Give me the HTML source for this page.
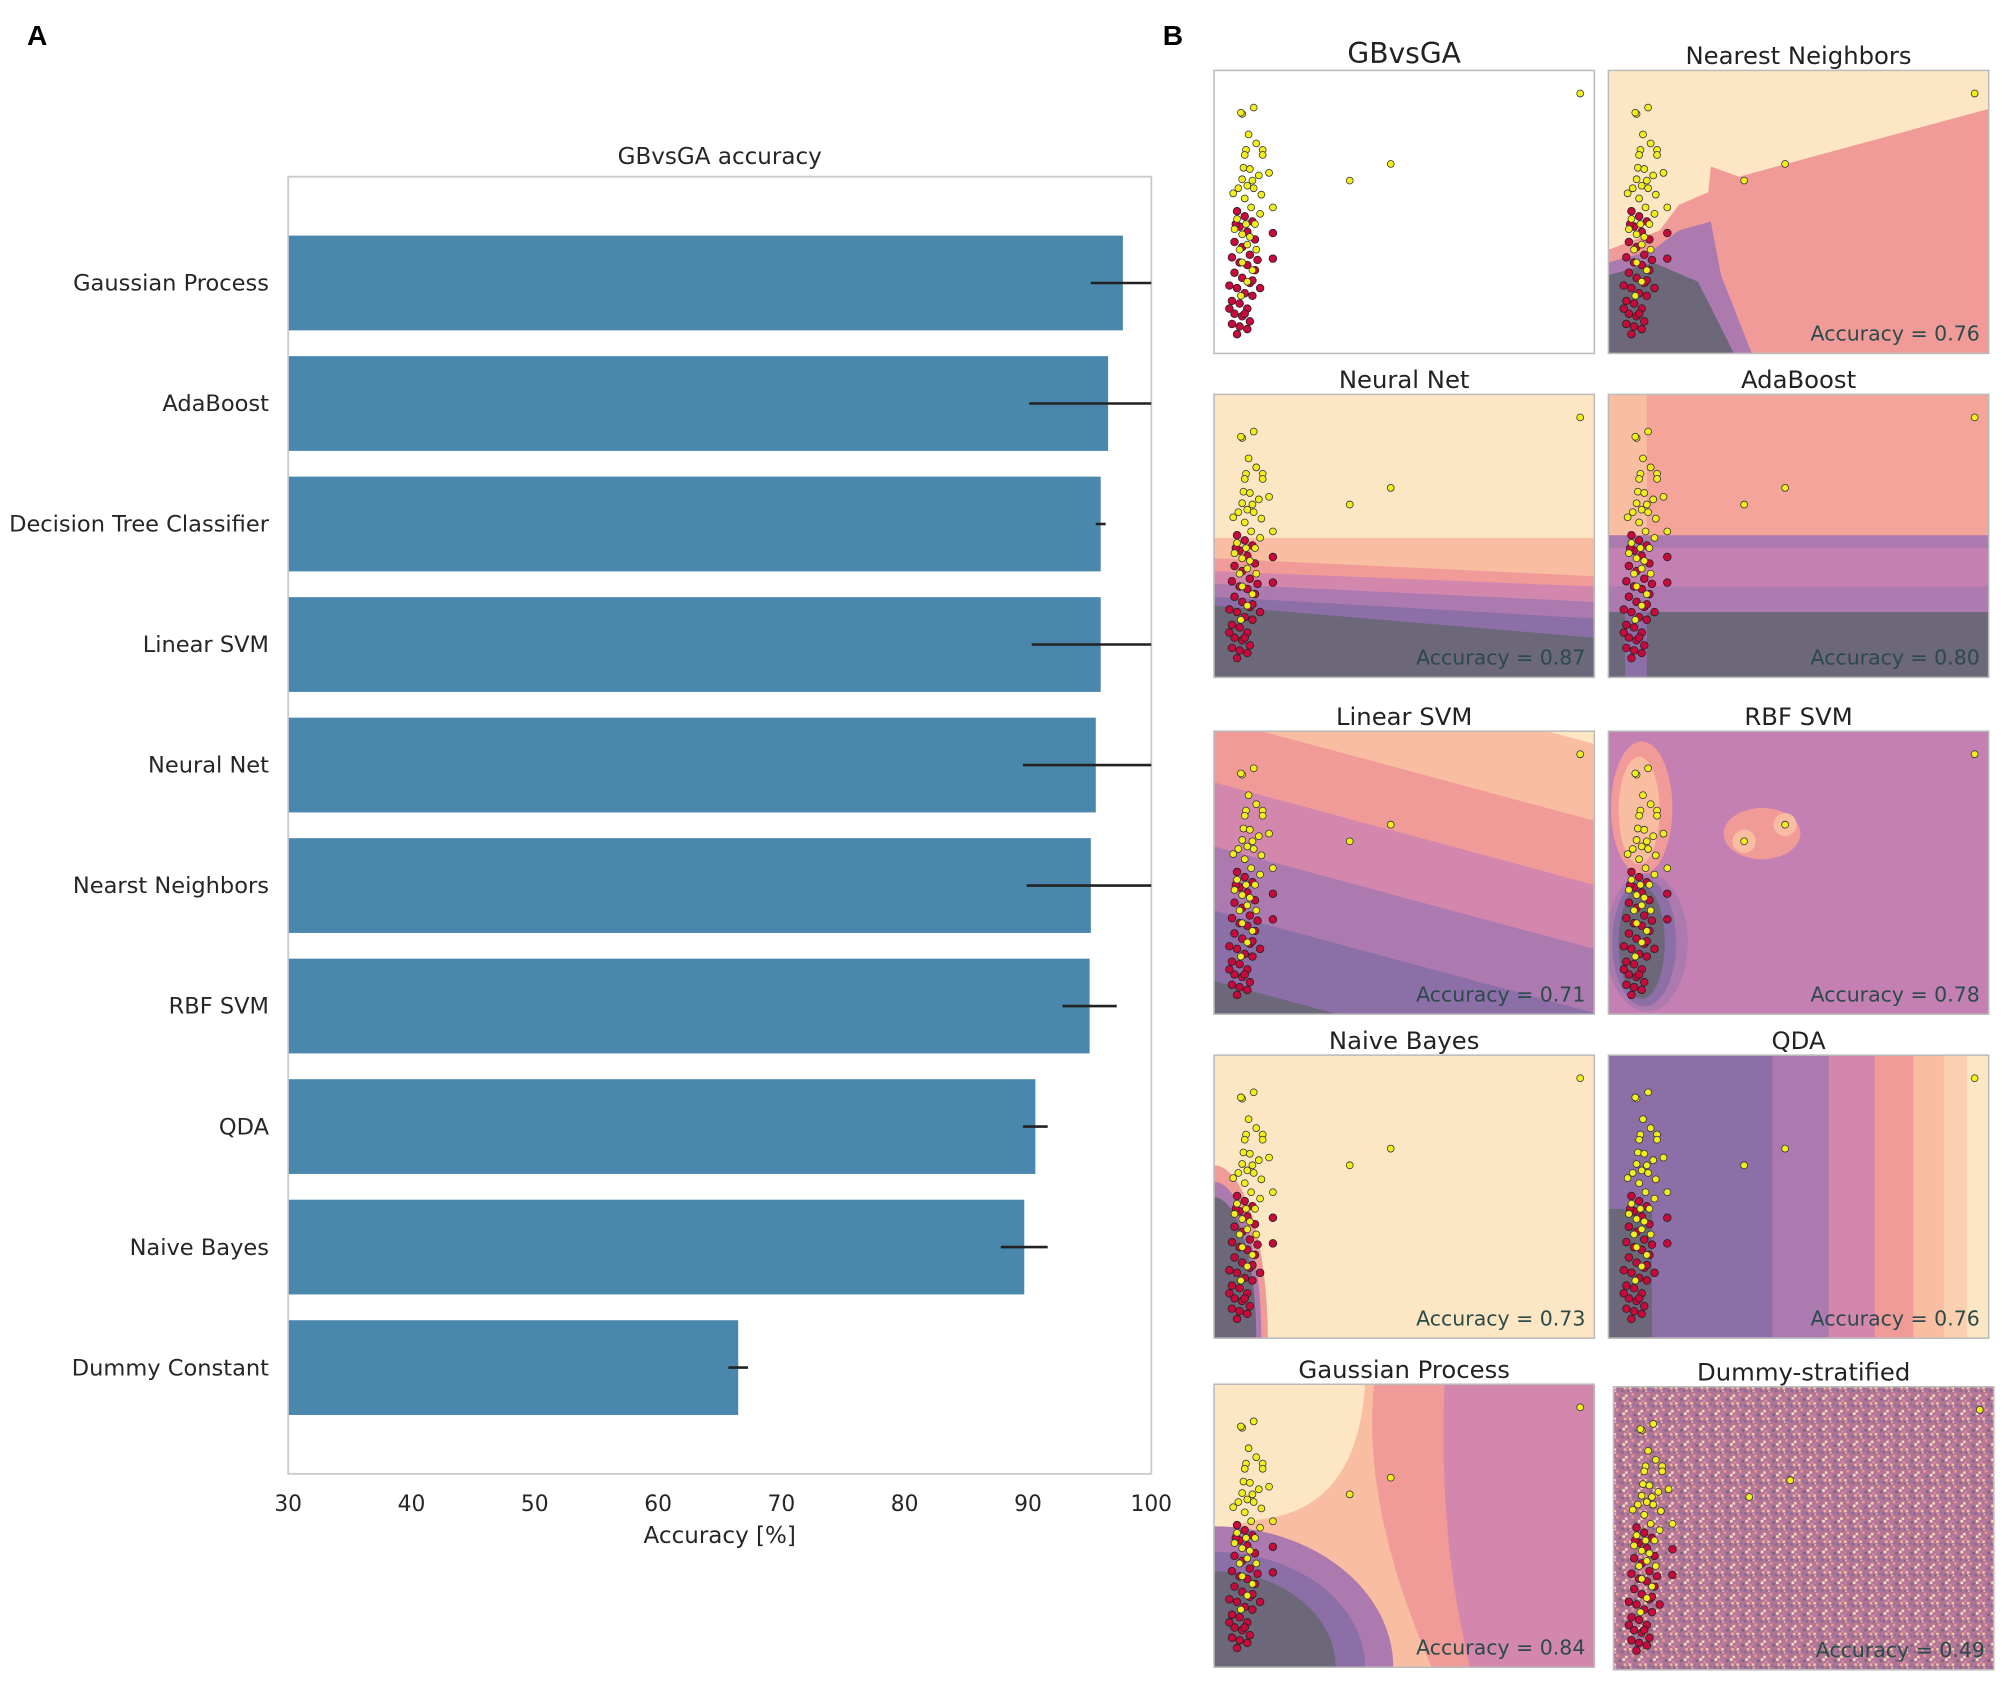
<!DOCTYPE html>
<html><head><meta charset="utf-8"><style>
html,body{margin:0;padding:0;background:#fff;width:2008px;height:1689px;overflow:hidden;}
svg{display:block;font-family:"DejaVu Sans","Liberation Sans",sans-serif;vertical-align:top;}
</style></head><body>
<svg id="fig" width="2008" height="1689" viewBox="0 0 1568 1319" xmlns="http://www.w3.org/2000/svg">
<defs>
<pattern id="noise" width="12" height="12" patternUnits="userSpaceOnUse">
<rect width="12" height="12" fill="#b27694"/>
<rect x="0" y="0" width="2" height="2" fill="#f5c9a2"/><rect x="6" y="2" width="2" height="2" fill="#7d6a96"/>
<rect x="2" y="5" width="2" height="2" fill="#e89a98"/><rect x="9" y="6" width="2" height="2" fill="#f9dcb8"/>
<rect x="4" y="9" width="2" height="2" fill="#6e6780"/><rect x="10" y="10" width="2" height="2" fill="#d48aa8"/>
<rect x="3" y="1" width="2" height="2" fill="#956ea5"/><rect x="8" y="0" width="2" height="2" fill="#f2b49c"/>
<rect x="0" y="8" width="2" height="2" fill="#c07aa8"/><rect x="7" y="8" width="2" height="2" fill="#fbe3c4"/>
<rect x="1" y="3" width="1" height="1" fill="#fde8c8"/><rect x="11" y="3" width="1" height="1" fill="#5f5a74"/>
</pattern>
</defs>
<text x="21" y="35" font-size="22" font-weight="bold" font-family="Liberation Sans,sans-serif">A</text>
<text x="908" y="35" font-size="22" font-weight="bold" font-family="Liberation Sans,sans-serif">B</text>
<g id="barchart"></g>
<g id="panels"></g>
</svg>
<script>
const categories = ["Gaussian Process","AdaBoost","Decision Tree Classifier","Linear SVM","Neural Net","Nearst Neighbors","RBF SVM","QDA","Naive Bayes","Dummy Constant"];
const accuracies = [97.7,96.5,95.9,95.9,95.5,95.1,95.0,90.6,89.7,66.5];
const errors = [2.6,6.4,0.4,5.6,5.9,5.2,2.2,1.0,1.9,0.8];
const xTicks = [30,40,50,60,70,80,90,100];

const yellowPts = [[22,34],[31,29],[21,33],[27,50],[33,57],[25,62],[38,62],[38,66],[24,66],[23,76],[28,77],[43,80],[22,85],[30,86],[35,82],[19,92],[26,90],[31,92],[37,97],[15,96],[24,100],[29,107],[36,112],[18,116],[25,120],[32,120],[16,124],[22,128],[28,130],[20,140],[26,136],[33,140],[22,150],[30,156],[26,165],[21,176],[286,18],[138,73],[106,86],[46,107]];
const redPts = [[18,110],[24,114],[30,118],[20,122],[26,126],[32,132],[16,134],[22,138],[28,144],[14,146],[20,150],[26,152],[32,156],[16,158],[22,162],[28,166],[12,168],[18,170],[24,174],[30,176],[14,180],[20,182],[26,186],[16,190],[22,192],[28,196],[14,198],[20,200],[26,202],[18,206],[24,190],[30,164],[12,186],[34,148],[36,170],[17,120],[46,127],[46,147]];
const panelTitles = ["GBvsGA","Nearest Neighbors","Neural Net","AdaBoost","Linear SVM","RBF SVM","Naive Bayes","QDA","Gaussian Process","Dummy-stratified"];
const panelScores = [null,"0.76","0.87","0.80","0.71","0.78","0.73","0.76","0.84","0.49"];

const NS="http://www.w3.org/2000/svg";
function mk(tag, attrs, parent){const e=document.createElementNS(NS,tag);for(const k in attrs)e.setAttribute(k,attrs[k]);if(parent)parent.appendChild(e);return e;}

const bc=document.getElementById('barchart');
const L=225,R=899,T=138,B=1151;
const xS=v=>L+(v-30)*(R-L)/70;
const yC=i=>221+i*(1068-221)/9;
const frame=mk('rect',{x:L,y:T,width:R-L,height:B-T,fill:'#fff',stroke:'#cccccc','stroke-width':1.5},bc);


const title=mk('text',{x:562,y:128,'font-size':18,'text-anchor':'middle',fill:'#262626'},bc);
title.textContent='GBvsGA accuracy';


categories.forEach((c,i)=>{
  const yc=yC(i);
  const bar=mk('rect',{x:L+0.5,y:yc-37,width:xS(accuracies[i])-L-0.5,height:74,fill:'#4a87ad'},bc);
  
  
  const x1=xS(accuracies[i]-errors[i]), x2=Math.min(R,xS(accuracies[i]+errors[i]));
  const eb=mk('line',{x1:x1,x2:x2,y1:yc,y2:yc,stroke:'#222',"stroke-width":2},bc);
  
  
  const lb=mk('text',{x:210,y:yc+6,'font-size':17.6,'text-anchor':'end',fill:'#262626'},bc);
  lb.textContent=c;
  
  
});
xTicks.forEach(t=>{
  const tl=mk('text',{x:xS(t),y:1180,'font-size':17,'text-anchor':'middle',fill:'#262626'},bc);
  tl.textContent=t;
  
  
});
const xl=mk('text',{x:562,y:1205,'font-size':18,'text-anchor':'middle',fill:'#262626'},bc);
xl.textContent='Accuracy [%]';



const C={cream:'#fde6c3',peach:'#f9bda1',salmon:'#f19b98',sal2:'#f5a499',pink:'#d487ad',pink2:'#c47fb3',mauve:'#ad7ab0',purple:'#8d6fa8',dark:'#6c6779'};
const pl=document.getElementById('panels');
const W=297,H=221;
const pos=[[948,55],[1256,55],[948,308],[1256,308],[948,571],[1256,571],[948,824],[1256,824],[948,1081],[1260,1083]];
function poly(g,pts,fill){mk('polygon',{points:pts.map(p=>p.join(',')).join(' '),fill:fill},g);}
function band(g,yl1,yr1,fill){poly(g,[[0,Math.min(yl1,H)],[W,Math.min(yr1,H)],[W,H],[0,H]],fill);}
function qell(g,rx,ry,fill){mk('path',{d:`M0 ${H} L0 ${H-ry} A ${rx} ${ry} 0 0 1 ${rx} ${H} Z`,fill:fill},g);}
const bgs=[
 g=>{mk('rect',{width:W,height:H,fill:'#fff'},g);},
 g=>{mk('rect',{width:W,height:H,fill:C.cream},g);
   poly(g,[[0,140],[40,125],[55,105],[78,95],[80,75],[102,83],[W,30],[W,H],[0,H]],C.salmon);
   poly(g,[[0,150],[35,140],[55,125],[80,118],[88,160],[112,H],[0,H]],C.mauve);
   poly(g,[[0,160],[35,150],[70,165],[98,H],[0,H]],C.dark);},
 g=>{mk('rect',{width:W,height:H,fill:C.cream},g);
   band(g,112,112,C.peach);band(g,128,142,C.salmon);band(g,138,150,C.pink);
   band(g,148,162,C.mauve);band(g,158,175,C.purple);band(g,165,190,C.dark);},
 g=>{mk('rect',{width:W,height:H,fill:C.sal2},g);mk('rect',{width:30,height:110,fill:C.peach},g);
   band(g,110,110,C.mauve);band(g,120,120,C.pink2);band(g,150,150,C.mauve);
   band(g,170,170,C.dark);mk('rect',{x:13,y:170,width:17,height:51,fill:C.purple},g);},
 g=>{const cols=[C.cream,C.peach,C.salmon,C.pink,C.mauve,C.purple,C.dark];const bl=[-140,-70,-10,40,90,140,195];
   mk('rect',{width:W,height:H,fill:C.cream},g);
   for(let k=1;k<cols.length;k++){
     const yl=bl[k], yr=bl[k]+80;
     if(yr<=H){poly(g,[[0,yl],[W,yr],[W,H],[0,H]],cols[k]);}
     else{const xc=(H-yl)/80*W;poly(g,[[0,yl],[xc,H],[0,H]],cols[k]);}
   }},
 g=>{mk('rect',{width:W,height:H,fill:C.pink2},g);
   mk('ellipse',{cx:26,cy:60,rx:24,ry:52,fill:C.salmon},g);mk('ellipse',{cx:24,cy:62,rx:16,ry:42,fill:C.peach},g);
   mk('ellipse',{cx:120,cy:80,rx:30,ry:20,fill:C.salmon},g);
   mk('circle',{cx:106,cy:86,r:9,fill:C.peach},g);mk('circle',{cx:138,cy:73,r:9,fill:C.peach},g);
   mk('ellipse',{cx:30,cy:165,rx:32,ry:54,fill:C.mauve},g);mk('ellipse',{cx:28,cy:165,rx:25,ry:50,fill:C.purple},g);
   mk('ellipse',{cx:26,cy:165,rx:18,ry:44,fill:C.dark},g);},
 g=>{mk('rect',{width:W,height:H,fill:C.cream},g);
   qell(g,42,135,C.salmon);qell(g,37,122,C.mauve);qell(g,33,110,C.dark);},
 g=>{const xs=[0,128,172,208,238,262,280],cs=[C.purple,C.mauve,C.pink,C.salmon,C.peach,'#fbd0b0',C.cream];
   xs.forEach((x,k)=>mk('rect',{x:x,y:0,width:W-x,height:H,fill:cs[k]},g));
   mk('rect',{x:0,y:120,width:34,height:101,fill:C.dark},g);},
 g=>{mk('rect',{width:W,height:H,fill:C.pink},g);
   mk('path',{d:'M0 0 H180 Q175 120 200 221 H0 Z',fill:C.salmon},g);
   mk('path',{d:'M0 0 H125 Q115 95 170 221 H0 Z',fill:C.peach},g);
   mk('path',{d:'M0 0 H118 Q112 95 40 105 Q15 108 0 120 Z',fill:C.cream},g);
   qell(g,140,110,C.mauve);qell(g,118,90,C.purple);qell(g,95,75,C.dark);},
 g=>{mk('rect',{width:W,height:H,fill:'url(#noise)'},g);}
];
pos.forEach((p,i)=>{
  const g=mk('g',{transform:`translate(${p[0]},${p[1]})`},pl);
  
  
  const cp=mk('clipPath',{id:'cp'+i},g);mk('rect',{width:W,height:H},cp);
  const inner=mk('g',{'clip-path':`url(#cp${i})`},g);
  bgs[i](inner);
  redPts.forEach(q=>mk('circle',{cx:q[0],cy:q[1],r:3,fill:'#c8093b',stroke:'#222','stroke-width':0.6},inner));
  yellowPts.forEach(q=>mk('circle',{cx:q[0],cy:q[1],r:2.7,fill:'#f2ee1c',stroke:'#333','stroke-width':0.6},inner));
  mk('rect',{width:W,height:H,fill:'none',stroke:'#bbb','stroke-width':1.2},g);
  const tt=mk('text',{x:W/2,y:i==0?-6:-5,'font-size':i==0?22:19,'text-anchor':'middle',fill:'#222'},g);
  tt.textContent=panelTitles[i];
  
  
  if(panelScores[i]){
    const at=mk('text',{x:W-7,y:H-10,'font-size':16,'text-anchor':'end',fill:'#2b4a4a'},g);
    at.textContent='Accuracy = '+panelScores[i];
    
    
  }
});
</script>
</body></html>
